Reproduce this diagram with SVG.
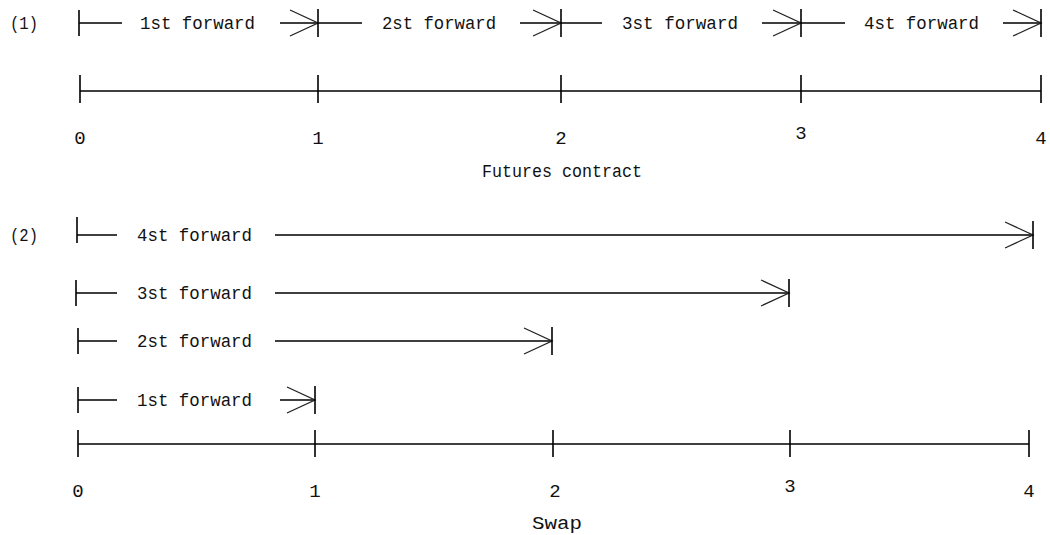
<svg xmlns="http://www.w3.org/2000/svg" width="1050" height="535" viewBox="0 0 1050 535">
  <style>
    .ln { stroke: #000; stroke-width: 1.6; fill: none; }
    .hd { stroke: #222; stroke-width: 1.3; fill: none; }
    text { font-family: "Liberation Mono", "DejaVu Sans Mono", monospace; font-size: 19px; fill: #111; }
    .c { text-anchor: middle; }
  </style>
  <defs>
    <!-- open arrowhead with a stop bar at the tip (tip at 0,0) -->
    <g id="head">
      <path class="hd" d="M-28,-13 L0,0 L-28,13"/>
      <path class="ln" d="M0,-14 V14"/>
    </g>
    <path id="stop" class="ln" d="M0,-13 V13"/>
  </defs>

  <!-- (1) futures: four consecutive forwards -->
  <g id="futures-forwards">
    <text x="10" y="29" textLength="28" lengthAdjust="spacingAndGlyphs">(1)</text>
    <g class="ln">
      <path d="M79,23 H122 M280,23 H318 M318,23 H362 M520,23 H561 M561,23 H602 M762,23 H801 M801,23 H845 M1003,23 H1041"/>
    </g>
    <use href="#stop" x="79" y="23"/>
    <use href="#head" x="318" y="23"/>
    <use href="#head" x="561" y="23"/>
    <use href="#head" x="801" y="23"/>
    <use href="#head" x="1041" y="23"/>
    <text x="140" y="29" textLength="115" lengthAdjust="spacingAndGlyphs">1st forward</text>
    <text x="382" y="29" textLength="114" lengthAdjust="spacingAndGlyphs">2st forward</text>
    <text x="622" y="29" textLength="116" lengthAdjust="spacingAndGlyphs">3st forward</text>
    <text x="864" y="29" textLength="115" lengthAdjust="spacingAndGlyphs">4st forward</text>
  </g>

  <g id="futures-axis">
    <path class="ln" d="M80,91 H1041 M80,75 V103 M318,75 V103 M561,75 V103 M801,75 V103 M1041,75 V103"/>
    <text class="c" x="80" y="144">0</text>
    <text class="c" x="318" y="144">1</text>
    <text class="c" x="561" y="144">2</text>
    <text class="c" x="801" y="139">3</text>
    <text class="c" x="1041" y="144">4</text>
    <text class="c" x="562" y="177" textLength="160" lengthAdjust="spacingAndGlyphs">Futures contract</text>
  </g>

  <!-- (2) swap: overlapping forwards from time 0 -->
  <g id="swap-forwards">
    <text x="10" y="241" textLength="28" lengthAdjust="spacingAndGlyphs">(2)</text>
    <g class="ln">
      <path d="M77,235 H117 M275,235 H1033"/>
      <path d="M76,293 H117 M275,293 H789"/>
      <path d="M78,341 H117 M275,341 H552"/>
      <path d="M78,400 H117 M280,400 H315"/>
    </g>
    <use href="#stop" x="77" y="230"/>
    <use href="#stop" x="76" y="293"/>
    <use href="#stop" x="78" y="341"/>
    <use href="#stop" x="78" y="400"/>
    <use href="#head" x="1033" y="235"/>
    <use href="#head" x="789" y="293"/>
    <use href="#head" x="552" y="341"/>
    <use href="#head" x="315" y="400"/>
    <text x="137" y="241" textLength="115" lengthAdjust="spacingAndGlyphs">4st forward</text>
    <text x="137" y="299" textLength="115" lengthAdjust="spacingAndGlyphs">3st forward</text>
    <text x="137" y="347" textLength="115" lengthAdjust="spacingAndGlyphs">2st forward</text>
    <text x="137" y="406" textLength="115" lengthAdjust="spacingAndGlyphs">1st forward</text>
  </g>

  <g id="swap-axis">
    <path class="ln" d="M78,444 H1029 M78,430 V457 M315,430 V457 M553,430 V457 M790,430 V457 M1029,430 V457"/>
    <text class="c" x="78" y="497">0</text>
    <text class="c" x="315" y="497">1</text>
    <text class="c" x="555" y="497">2</text>
    <text class="c" x="790" y="492">3</text>
    <text class="c" x="1029" y="497">4</text>
    <text class="c" x="557" y="529" textLength="50" lengthAdjust="spacingAndGlyphs">Swap</text>
  </g>
</svg>
